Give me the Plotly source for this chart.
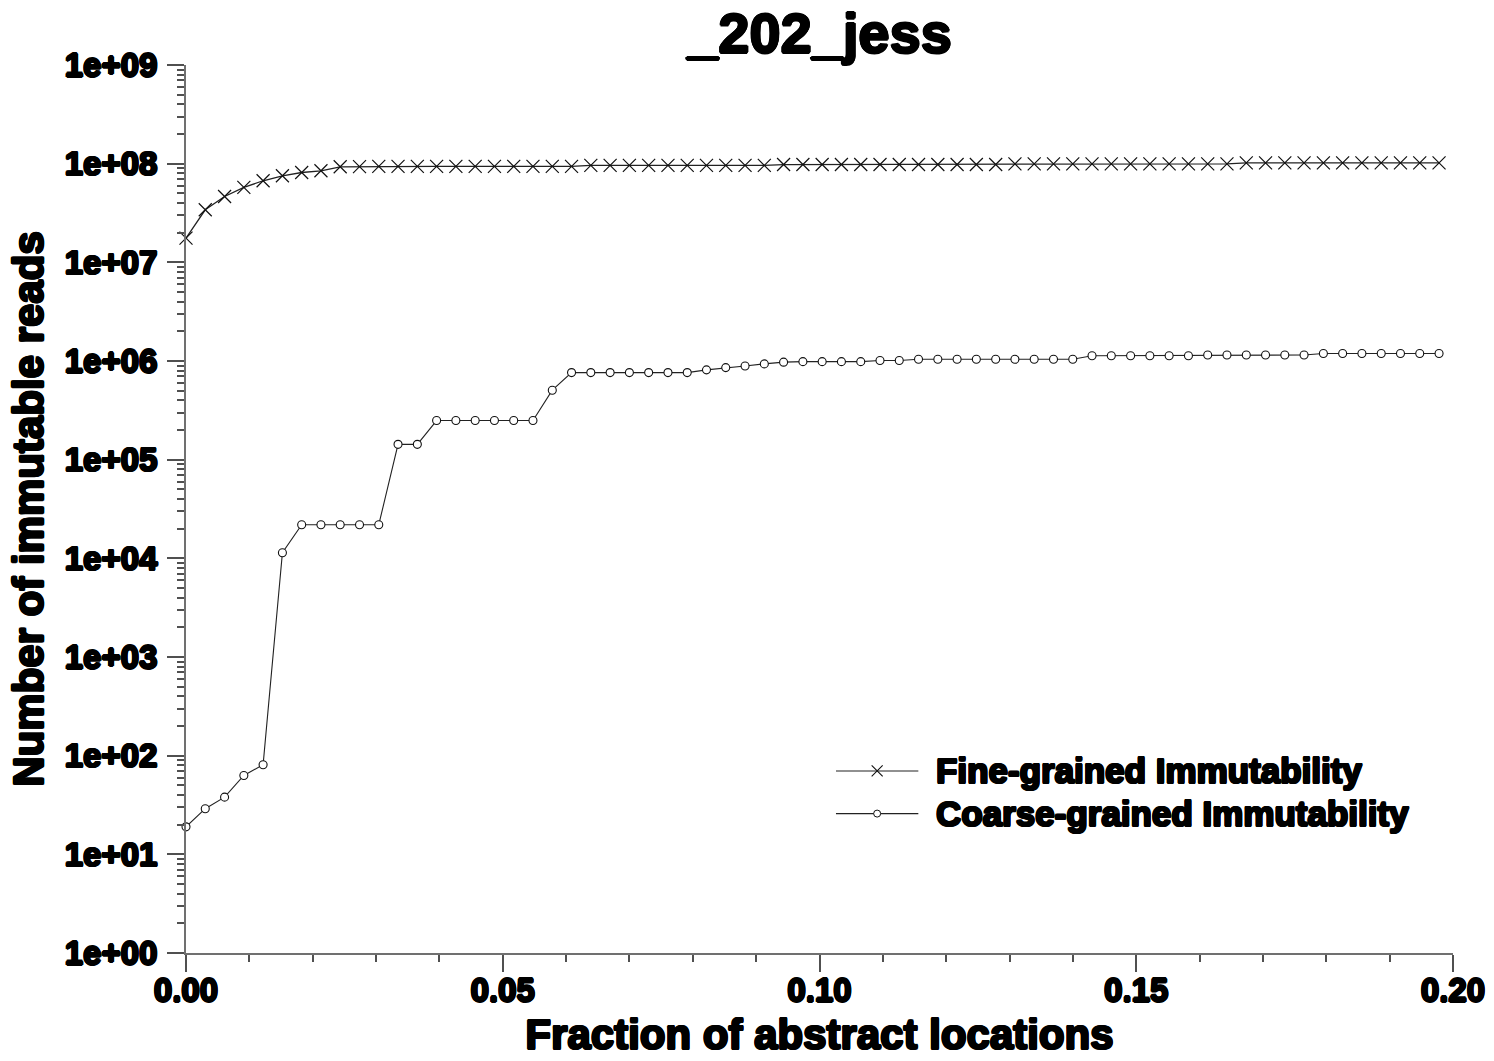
import plotly.graph_objects as go

# Fraction of abstract locations treated as mutable (x axis)
fraction = [
    0.0, 0.00304, 0.00609, 0.00913, 0.01217, 0.01522, 0.01826, 0.02130, 0.02434, 0.02739,
    0.03043, 0.03347, 0.03652, 0.03956, 0.04260, 0.04565, 0.04869, 0.05173, 0.05477, 0.05782,
    0.06086, 0.06390, 0.06695, 0.06999, 0.07303, 0.07608, 0.07912, 0.08216, 0.08520, 0.08825,
    0.09129, 0.09433, 0.09738, 0.10042, 0.10346, 0.10651, 0.10955, 0.11259, 0.11563, 0.11868,
    0.12172, 0.12476, 0.12781, 0.13085, 0.13389, 0.13694, 0.13998, 0.14302, 0.14606, 0.14911,
    0.15215, 0.15519, 0.15824, 0.16128, 0.16432, 0.16737, 0.17041, 0.17345, 0.17649, 0.17954,
    0.18258, 0.18562, 0.18867, 0.19171, 0.19475, 0.19780,
]

# Immutable reads, fine-grained analysis
fine_reads = [
    1.76e7, 3.41e7, 4.65e7, 5.74e7, 6.71e7, 7.54e7, 8.14e7, 8.47e7, 9.30e7, 9.35e7,
    9.40e7, 9.40e7, 9.40e7, 9.40e7, 9.40e7, 9.40e7, 9.40e7, 9.40e7, 9.40e7, 9.40e7,
    9.40e7, 9.60e7, 9.60e7, 9.60e7, 9.60e7, 9.60e7, 9.60e7, 9.60e7, 9.60e7, 9.60e7,
    9.60e7, 9.80e7, 9.80e7, 9.80e7, 9.80e7, 9.80e7, 9.80e7, 9.80e7, 9.80e7, 9.80e7,
    9.80e7, 9.80e7, 9.80e7, 9.95e7, 9.95e7, 9.95e7, 9.95e7, 9.95e7, 9.95e7, 9.95e7,
    9.95e7, 9.95e7, 9.95e7, 9.95e7, 9.95e7, 1.02e8, 1.02e8, 1.02e8, 1.02e8, 1.02e8,
    1.02e8, 1.02e8, 1.02e8, 1.02e8, 1.02e8, 1.02e8,
]

# Immutable reads, coarse-grained analysis
coarse_reads = [
    19, 29, 38, 63, 81, 11400, 21900, 21900, 21900, 21900,
    21900, 143000, 143000, 249000, 249000, 249000, 249000, 249000, 249000, 506000,
    763000, 763000, 763000, 763000, 763000, 763000, 763000, 813000, 857000, 891000,
    935000, 973000, 985000, 985000, 985000, 985000, 1010000, 1010000, 1040000, 1040000,
    1040000, 1040000, 1040000, 1040000, 1040000, 1040000, 1040000, 1130000, 1130000, 1130000,
    1130000, 1130000, 1130000, 1150000, 1150000, 1150000, 1150000, 1150000, 1150000, 1190000,
    1190000, 1190000, 1190000, 1190000, 1190000, 1190000,
]

series_names = ["Fine-grained Immutability", "Coarse-grained Immutability"]

x_tick_vals = [0.0, 0.05, 0.10, 0.15, 0.20]
x_tick_text = ["0.00", "0.05", "0.10", "0.15", "0.20"]
y_tick_vals = [1e0, 1e1, 1e2, 1e3, 1e4, 1e5, 1e6, 1e7, 1e8, 1e9]
y_tick_text = ["1e+00", "1e+01", "1e+02", "1e+03", "1e+04",
               "1e+05", "1e+06", "1e+07", "1e+08", "1e+09"]

FONT = "Liberation Sans"
HEAVY = ("1.1px 0 0 #000, -1.1px 0 0 #000, 0 1.1px 0 #000, 0 -1.1px 0 #000, "
         "0.8px 0.8px 0 #000, -0.8px -0.8px 0 #000, 0.8px -0.8px 0 #000, -0.8px 0.8px 0 #000")


def heavy_font(size):
    return dict(family=FONT, size=size, color="#000", weight="bold", shadow=HEAVY)


LINE_COLOR = "#222"
MARK_COLOR = "#111"
AXIS_COLOR = "#707070"
TICK_COLOR = "#505050"

X_MARKER = dict(symbol="x-thin-open", size=13, color=MARK_COLOR,
                line=dict(color=MARK_COLOR, width=1.2))
O_MARKER = dict(symbol="circle", size=8, color="white",
                line=dict(color=MARK_COLOR, width=1.1))

fig = go.Figure()

fig.add_trace(go.Scatter(
    x=fraction, y=fine_reads, mode="lines+markers", name=series_names[0],
    line=dict(color=LINE_COLOR, width=1.3), marker=X_MARKER,
    cliponaxis=False, showlegend=False,
))
fig.add_trace(go.Scatter(
    x=fraction, y=coarse_reads, mode="lines+markers", name=series_names[1],
    line=dict(color=LINE_COLOR, width=1.1), marker=O_MARKER,
    cliponaxis=False, showlegend=False,
))

# Legend keys drawn on a hidden overlay axis so the key lines can be long
legend_rows = [0.205, 0.157]
legend_markers = [
    dict(symbol="x-thin-open", size=11, color=MARK_COLOR, line=dict(color=MARK_COLOR, width=1.1)),
    dict(symbol="circle", size=7, color="white", line=dict(color=MARK_COLOR, width=1.0)),
]
key_x0, key_x1, text_x = 0.513, 0.578, 0.590
for name, row, mk in zip(series_names, legend_rows, legend_markers):
    fig.add_trace(go.Scatter(
        x=[key_x0, key_x1], y=[row, row], mode="lines",
        line=dict(color=LINE_COLOR, width=1.1),
        xaxis="x2", yaxis="y2", showlegend=False, hoverinfo="skip",
    ))
    fig.add_trace(go.Scatter(
        x=[(key_x0 + key_x1) / 2], y=[row], mode="markers", marker=mk,
        xaxis="x2", yaxis="y2", showlegend=False, hoverinfo="skip",
    ))
    fig.add_annotation(
        x=text_x, y=row, xref="paper", yref="paper", text=name,
        showarrow=False, xanchor="left", yanchor="middle", font=heavy_font(35),
    )

fig.update_layout(
    width=1494, height=1061,
    margin=dict(l=186, r=41, t=65, b=108),
    paper_bgcolor="white", plot_bgcolor="white",
    title=dict(text="_202_jess", x=0.5, xref="paper", xanchor="center",
               y=0.969, yref="container", yanchor="middle", font=heavy_font(56)),
    xaxis=dict(
        range=[0, 0.2], tickvals=x_tick_vals, ticktext=x_tick_text, automargin=False,
        showgrid=False, zeroline=False, showline=True, linecolor=AXIS_COLOR, linewidth=2,
        ticks="outside", ticklen=17, tickwidth=1.5, tickcolor=TICK_COLOR,
        tickfont=heavy_font(33), ticklabelstandoff=-10,
        minor=dict(ticks="outside", ticklen=7, tickwidth=1.5, tickcolor=TICK_COLOR,
                   dtick=0.01, showgrid=False),
        title=dict(text="Fraction of abstract locations", font=heavy_font(42), standoff=12),
    ),
    yaxis=dict(
        type="log", range=[0, 9], tickvals=y_tick_vals, ticktext=y_tick_text, automargin=False,
        showgrid=False, zeroline=False, showline=True, linecolor=AXIS_COLOR, linewidth=2,
        ticks="outside", ticklen=17, tickwidth=1.5, tickcolor=TICK_COLOR,
        tickfont=heavy_font(33), ticklabelstandoff=3,
        minor=dict(ticks="outside", ticklen=7, tickwidth=1.5, tickcolor=TICK_COLOR,
                   tickvals=[k * 10 ** d for d in range(9) for k in range(2, 10)],
                   showgrid=False),
        title=dict(text="Number of immutable reads", font=heavy_font(42), standoff=8),
    ),
    xaxis2=dict(overlaying="x", anchor="y2", range=[0, 1], visible=False),
    yaxis2=dict(overlaying="y", anchor="x2", range=[0, 1], visible=False),
)

fig.write_html("out.html")
